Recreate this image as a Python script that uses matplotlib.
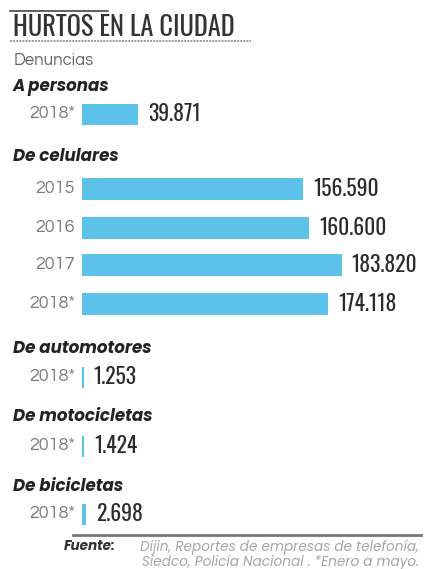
import matplotlib
matplotlib.use("Agg")
import matplotlib.pyplot as plt

# data
secciones = ["A personas", "De celulares", "De automotores", "De motocicletas", "De bicicletas"]
anios = [["2018*"], ["2015", "2016", "2017", "2018*"], ["2018*"], ["2018*"], ["2018*"]]
valores = [[39871], [156590, 160600, 183820, 174118], [1253], [1424], [2698]]
etiquetas = [["39.871"], ["156.590", "160.600", "183.820", "174.118"], ["1.253"], ["1.424"], ["2.698"]]

# layout in pixel rows
head_y = [87, 157, 349, 417, 487]
row_y = [[114], [189, 228, 265, 304], [377], [446], [514]]

W, H = 424, 569
x0 = 82          # bar start in px
k = 0.001413     # px per denuncia

azul = "#5cc2ea"
cond = ["Oswald", "DejaVu Sans"]
geo = ["Questrial", "DejaVu Sans"]
pop = ["Poppins", "DejaVu Sans"]

fig = plt.figure(figsize=(W / 100, H / 100), dpi=100)
ax = fig.add_axes([0, 0, 1, 1])
ax.set_xlim(-x0 / k, (W - x0) / k)
ax.set_ylim(H, 0)
ax.axis("off")

def px(x):
    return (x - x0) / k

# title block
ax.plot([px(10), px(108)], [11, 11], color="#444444", lw=1.2)
ax.text(px(13), 27, "HURTOS EN LA CIUDAD", family=cond, fontsize=19, weight="semibold",
        color="#333333", va="center", ha="left")
ax.plot([px(10), px(251)], [41, 41], color="#999999", lw=1.4, ls=(0, (1, 0.6)))
ax.text(px(14), 60, "Denuncias", family=geo, fontsize=12, color="#666666", va="center")

for s, nombre in enumerate(secciones):
    ax.text(px(13), head_y[s], nombre, family=pop, fontsize=12, weight="bold",
            style="italic", color="#222222", va="center")
    for a, v, e, y in zip(anios[s], valores[s], etiquetas[s], row_y[s]):
        ax.barh(y, v, height=22 if s == 1 else 21, left=0, color=azul)
        ax.text(px(75), y, a, family=geo, fontsize=13, color="#7a7a7a",
                ha="right", va="center")
        ax.text(v + 10 / k, y, e, family=cond, fontsize=15.5, color="#2a2a2a",
                ha="left", va="center")

# source
ax.plot([px(73), px(421)], [535, 535], color="#777777", lw=2)
ax.text(px(419), 547, "Dijin, Reportes de empresas de telefonía,", family=pop,
        fontsize=9.8, style="italic", color="#a5a5a5", ha="right", va="center")
ax.text(px(419), 562, "Siedco, Policía Nacional . *Enero a mayo.", family=pop,
        fontsize=9.8, style="italic", color="#a5a5a5", ha="right", va="center")
ax.text(px(64), 547, "Fuente:", family=pop, fontsize=9.8, style="italic",
        weight="bold", color="#333333", ha="left", va="center")

fig.savefig("out.png", dpi=100)
